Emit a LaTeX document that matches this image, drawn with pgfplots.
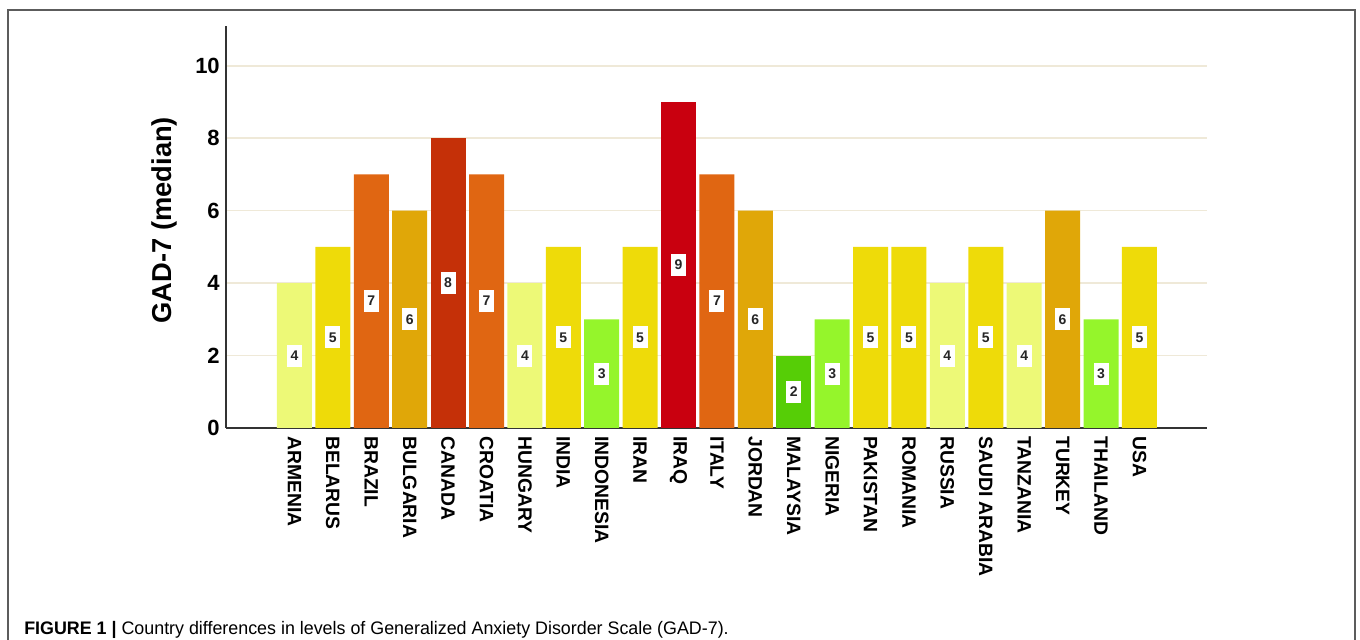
\documentclass[border=0pt]{standalone}
\usepackage{pgfplots}
\pgfplotsset{compat=1.18}
\usepackage{fontspec}
\setmainfont{Liberation Sans}
\definecolor{cA}{HTML}{56CE06}
\definecolor{cB}{HTML}{95F52B}
\definecolor{cC}{HTML}{EDF977}
\definecolor{cD}{HTML}{EEDB09}
\definecolor{cE}{HTML}{E0A708}
\definecolor{cF}{HTML}{E06612}
\definecolor{cG}{HTML}{C53008}
\definecolor{cH}{HTML}{C9000F}
\definecolor{gridc}{HTML}{EFE9D8}
\definecolor{axc}{HTML}{333333}
\begin{document}
\begin{tikzpicture}
\useasboundingbox (0pt,0pt) rectangle (1020pt,479.25pt);
\draw[color=axc!80, line width=1.2pt] (6pt,-7.5pt) -- (6pt,471.75pt) -- (1016.25pt,471.75pt) -- (1016.25pt,-7.5pt);
\begin{axis}[
  at={(169.5pt,158.25pt)}, anchor=south west,
  scale only axis, width=735.75pt, height=301.5pt,
  xmin=-1.783, xmax=23.76, ymin=0, ymax=11.1,
  axis x line*=bottom, axis y line*=left,
  axis line style={color=axc, line width=1pt, -},
  major tick length=0pt,
  ymajorgrids, grid style={color=gridc, line width=1.2pt},
  ytick={0,2,4,6,8,10},
  xtick={0,...,22},
  xticklabels={ARMENIA,BELARUS,BRAZIL,BULGARIA,CANADA,CROATIA,HUNGARY,INDIA,INDONESIA,IRAN,IRAQ,ITALY,JORDAN,MALAYSIA,NIGERIA,PAKISTAN,ROMANIA,RUSSIA,SAUDI ARABIA,TANZANIA,TURKEY,THAILAND,USA},
  xticklabel style={rotate=-90, anchor=west, inner xsep=6pt, inner ysep=0pt, font=\fontsize{14.5}{17}\selectfont\bfseries},
  yticklabel style={inner sep=0pt, xshift=-4.5pt, font=\fontsize{16.5}{19}\selectfont\bfseries},
  /pgf/number format/assume math mode=true,
  ylabel={GAD-7 (median)},
  ylabel style={at={(axis description cs:-0.0632,0.517)}, anchor=center, font=\fontsize{20.5}{24}\selectfont\bfseries},
  ybar, bar width=26.25pt, bar shift=0pt,
  visualization depends on=rawy \as \rawy,
  nodes near coords,
  every node near coord/.append style={anchor=center, fill=white, inner sep=0pt, minimum width=11.25pt, minimum height=16.5pt, text=black!85, font=\fontsize{10.5}{12}\selectfont\bfseries, yshift={-\rawy*13.575pt}},
  clip=false,
]
\addplot[draw=none, fill=cA] coordinates {(13,2)};
\addplot[draw=none, fill=cB] coordinates {(8,3) (14,3) (21,3)};
\addplot[draw=none, fill=cC] coordinates {(0,4) (6,4) (17,4) (19,4)};
\addplot[draw=none, fill=cD] coordinates {(1,5) (7,5) (9,5) (15,5) (16,5) (18,5) (22,5)};
\addplot[draw=none, fill=cE] coordinates {(3,6) (12,6) (20,6)};
\addplot[draw=none, fill=cF] coordinates {(2,7) (5,7) (11,7)};
\addplot[draw=none, fill=cG] coordinates {(4,8)};
\addplot[draw=none, fill=cH] coordinates {(10,9)};
\end{axis}
\node[anchor=base west, inner sep=0pt] at (18pt,3.75pt) {\scalebox{0.985}[1]{\fontsize{13.6}{16}\selectfont\textbf{FIGURE 1 |} Country differences in levels of Generalized Anxiety Disorder Scale (GAD-7).}};
\end{tikzpicture}
\end{document}
